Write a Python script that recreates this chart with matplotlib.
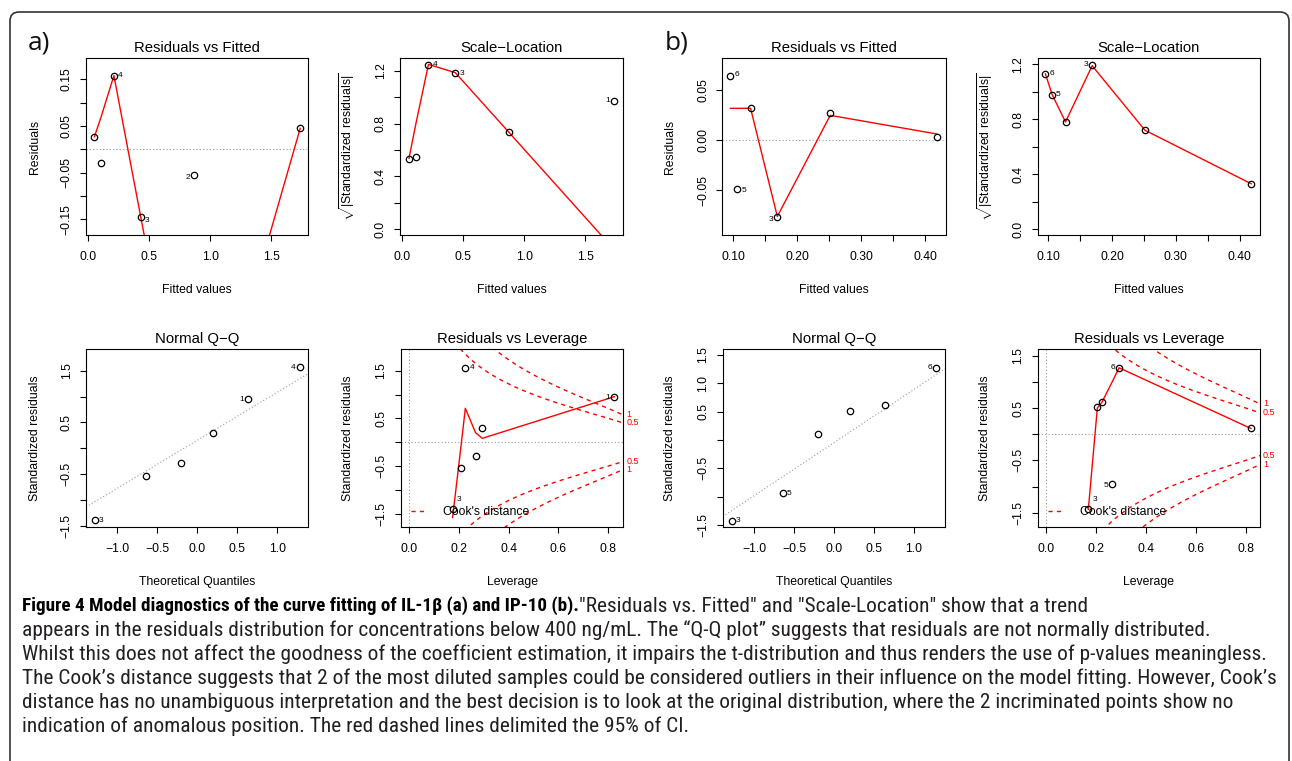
import numpy as np
import matplotlib
matplotlib.use("Agg")
import matplotlib.pyplot as plt
from matplotlib import font_manager
from matplotlib.patches import FancyBboxPatch
from matplotlib.lines import Line2D

W, H = 1292, 761

# ---------------- data : IL-1beta (a) ----------------
a_ids = ['1', '2', '3', '4', '5', '6']
a_fitted = [1.736, 0.870, 0.434, 0.214, 0.110, 0.055]
a_residuals = [0.045, -0.055, -0.146, 0.158, -0.029, 0.027]
a_std_residuals = [0.944, -0.533, -1.395, 1.565, -0.292, 0.290]
a_sqrt_std_residuals = [0.972, 0.737, 1.182, 1.248, 0.544, 0.529]
a_leverage = [0.824, 0.210, 0.176, 0.227, 0.268, 0.295]
# smoother values (ordered by increasing x)
a_smooth_resid = [0.027, 0.070, 0.158, -0.146, -0.745, 0.045]
a_smooth_scale = [0.537, 0.794, 1.250, 1.187, 0.737, -0.158]
a_smooth_lev = [-1.58, -0.066, 0.711, 0.200, 0.081, 0.955]

# ---------------- data : IP-10 (b) ----------------
b_ids = ['1', '2', '3', '4', '5', '6']
b_fitted = [0.418, 0.2515, 0.1688, 0.127, 0.106, 0.0955]
b_residuals = [0.0027, 0.0272, -0.0769, 0.0315, -0.0484, 0.0636]
b_std_residuals = [0.113, 0.518, -1.427, 0.610, -0.944, 1.273]
b_sqrt_std_residuals = [0.330, 0.722, 1.198, 0.780, 0.977, 1.132]
b_leverage = [0.821, 0.2065, 0.1705, 0.225, 0.2665, 0.2935]
b_smooth_resid = [0.0315, 0.0315, 0.0315, -0.076, 0.0245, 0.006]
b_smooth_scale = [1.13, 0.98, 0.78, 1.19, 0.72, 0.33]
b_smooth_lev = [-1.437, 0.50, 0.613, 1.006, 1.27, 0.109]

qq_theoretical = [-1.28, -0.64, -0.20, 0.20, 0.64, 1.28]
cook_levels = [0.5, 1.0]
cook_labels = ['0.5', '1']
n_params = 2

# labelled observations per panel
a_rvf_lab = ['4', '3', '2']
a_sl_lab = ['4', '3', '1']
a_qq_lab = ['3', '1', '4']
a_rvl_lab = ['4', '1', '3']
b_rvf_lab = ['6', '5', '3']
b_sl_lab = ['6', '5', '3']
b_qq_lab = ['3', '5', '6']
b_rvl_lab = ['6', '5', '3']

# tick values and labels
fit_a_ticks = [0.0, 0.5, 1.0, 1.5]
fit_a_labels = ['0.0', '0.5', '1.0', '1.5']
fit_b_ticks = [0.10, 0.15, 0.20, 0.25, 0.30, 0.35, 0.40]
fit_b_labels = ['0.10', '', '0.20', '', '0.30', '', '0.40']
res_a_ticks = [-0.15, -0.10, -0.05, 0.0, 0.05, 0.10, 0.15]
res_a_labels = ['\u22120.15', '', '\u22120.05', '', '0.05', '', '0.15']
res_b_ticks = [-0.05, 0.0, 0.05]
res_b_labels = ['\u22120.05', '0.00', '0.05']
sl_ticks = [0.0, 0.2, 0.4, 0.6, 0.8, 1.0, 1.2]
sl_labels = ['0.0', '', '0.4', '', '0.8', '', '1.2']
qx_ticks = [-1.0, -0.5, 0.0, 0.5, 1.0]
qx_labels = ['\u22121.0', '\u22120.5', '0.0', '0.5', '1.0']
sr_ticks = [-1.5, -1.0, -0.5, 0.0, 0.5, 1.0, 1.5]
sr_labels = ['\u22121.5', '', '\u22120.5', '', '0.5', '', '1.5']
sr_b_qq_labels = ['\u22121.5', '', '\u22120.5', '', '0.5', '1.0', '1.5']
lev_ticks = [0.0, 0.2, 0.4, 0.6, 0.8]
lev_labels = ['0.0', '0.2', '0.4', '0.6', '0.8']

# ---------------- style ----------------
def has_font(name):
    try:
        font_manager.findfont(font_manager.FontProperties(family=name), fallback_to_default=False)
        return True
    except Exception:
        return False


def weight_num(w):
    if isinstance(w, (int, float)):
        return int(w)
    return font_manager.weight_dict.get(str(w).lower(), 400)


def find_narrow():
    """Look for a condensed / narrow sans font (regular and bold files)."""
    prefs = ['Liberation Sans Narrow', 'Open Sans Condensed', 'Roboto Condensed',
             'Noto Sans', 'Open Sans', 'DejaVu Sans']
    entries = font_manager.fontManager.ttflist
    for fam in prefs:
        group = []
        for f in entries:
            st = str(f.stretch).lower()
            narrow = ('narrow' in f.name.lower() or 'condensed' in f.name.lower()
                      or st in ('condensed', 'semi-condensed', 'extra-condensed')
                      or 'condensed' in f.fname.lower() or 'narrow' in f.fname.lower())
            if f.name == fam and narrow and f.style == 'normal' \
                    and 'semi' not in f.fname.lower().replace('semibold', ''):
                group.append(f)
        if group:
            reg = [f for f in group if weight_num(f.weight) <= 450]
            bold = [f for f in group if weight_num(f.weight) >= 600]
            if reg and bold:
                reg.sort(key=lambda f: abs(weight_num(f.weight) - 400))
                bold.sort(key=lambda f: abs(weight_num(f.weight) - 700))
                return reg[0].fname, bold[0].fname
    return None


plt.rcParams['font.family'] = ['Liberation Sans', 'DejaVu Sans']
plt.rcParams['mathtext.fontset'] = 'custom'
plt.rcParams['mathtext.rm'] = 'Liberation Sans'
plt.rcParams['mathtext.it'] = 'Liberation Sans:italic'
plt.rcParams['axes.unicode_minus'] = True

TICK_FS = 8.7
LAB_FS = 8.8
TITLE_FS = 10.7
ID_FS = 6.0
RED = '#ff0000'
GREY = '#9a9a9a'

fig = plt.figure(figsize=(W / 100, H / 100), dpi=100)
fig.patch.set_facecolor('white')

bg = fig.add_axes([0, 0, 1, 1], zorder=-5)
bg.set_xlim(0, W)
bg.set_ylim(H, 0)
bg.axis('off')
bg.add_patch(FancyBboxPatch((10, 12), 1279, 820, boxstyle='round,pad=0,rounding_size=9',
                            fill=False, ec='#333333', lw=1.2))


def px_axes(x0, x1, y0, y1):
    return fig.add_axes([x0 / W, 1 - y1 / H, (x1 - x0) / W, (y1 - y0) / H])


def ftext(x, y, s, **kw):
    return fig.text(x / W, 1 - y / H, s, **kw)


def setup(ax, xlim, ylim, xt, xl, yt, yl):
    ax.set_xlim(xlim)
    ax.set_ylim(ylim)
    ax.set_xticks(xt)
    ax.set_xticklabels(xl)
    ax.set_yticks(yt)
    ax.set_yticklabels(yl)
    ax.tick_params(direction='out', length=4.5, width=0.8, labelsize=TICK_FS, colors='black')
    ax.tick_params(axis='x', pad=7.0)
    ax.tick_params(axis='y', pad=5.0)
    for lab in ax.get_yticklabels():
        lab.set_rotation(90)
        lab.set_verticalalignment('center')
    for s in ax.spines.values():
        s.set_linewidth(0.8)
        s.set_color('black')


def points(ax, x, y):
    ax.plot(x, y, 'o', mfc='none', mec='black', ms=4.6, mew=0.9, zorder=3)


def smooth(ax, x, s):
    ax.plot(np.sort(np.asarray(x)), s, color=RED, lw=1.0, zorder=2)


def id_labels(ax, ids, x, y, which, place):
    for lab in which:
        i = ids.index(lab)
        side, dy = place[lab]
        ax.annotate(lab, xy=(x[i], y[i]), xytext=(4.0 * side, -dy), textcoords='offset pixels',
                    ha='left' if side > 0 else 'right', va='center', fontsize=ID_FS,
                    annotation_clip=False, zorder=4)


def cook(ax, lev, xlim, ylim):
    hh = np.linspace(min(min(lev), max(lev) / 100), xlim[1], 101)
    for lvl, lab in zip(cook_levels, cook_labels):
        cl = np.sqrt(lvl * n_params * (1 - hh) / hh)
        ax.plot(hh, cl, color=RED, ls=(0, (3, 3)), lw=1.0, zorder=1)
        ax.plot(hh, -cl, color=RED, ls=(0, (3, 3)), lw=1.0, zorder=1)
        ye = np.sqrt(lvl * n_params * (1 - xlim[1]) / xlim[1])
        for yy in (ye, -ye):
            ax.annotate(lab, xy=(1, yy), xycoords=('axes fraction', 'data'), xytext=(3, 0),
                        textcoords='offset pixels', ha='left', va='center', fontsize=6.5,
                        color=RED, annotation_clip=False)
    ax.axhline(0, color=GREY, ls=(0, (1, 2)), lw=0.8, zorder=0)
    ax.axvline(0, color=GREY, ls=(0, (1, 2)), lw=0.8, zorder=0)
    ax.legend([Line2D([], [], color=RED, ls=(0, (3, 3)), lw=1.0)], ["Cook's distance"],
              loc='center left', bbox_to_anchor=(0.046, 0.081), frameon=False, borderpad=0,
              borderaxespad=0, handlelength=1.2, handletextpad=1.45, fontsize=LAB_FS)


def qq(ax, std):
    ys = np.sort(np.asarray(std))
    points(ax, qq_theoretical, ys)
    q1, q3 = np.quantile(ys, [0.25, 0.75])
    slope = (q3 - q1) / (2 * 0.6744898)
    inter = (q1 + q3) / 2
    ax.axline((0, inter), slope=slope, color=GREY, ls=(0, (1, 2)), lw=0.8, zorder=0)
    return ys


def titles(cx, row, title, xlabel, ylabel, ylx):
    base = 51.7 + row * 291.7
    ftext(cx, base, title, ha='center', va='baseline', fontsize=TITLE_FS)
    ftext(cx, 293.3 + row * 291.7, xlabel, ha='center', va='baseline', fontsize=LAB_FS)
    ftext(ylx, 146.7 + row * 291.7, ylabel, ha='center', va='center', rotation=90, fontsize=LAB_FS)


SQRT_LAB = r'$\sqrt{|\mathrm{Standardized\ residuals}|}$'

# ---------------- panel a ----------------
ax = px_axes(86, 308.3, 58.3, 235)
xl, yl = (-0.014, 1.802), (-0.1835, 0.195)
setup(ax, xl, yl, fit_a_ticks, fit_a_labels, res_a_ticks, res_a_labels)
ax.axhline(0, color=GREY, ls=(0, (1, 2)), lw=0.8, zorder=0)
points(ax, a_fitted, a_residuals)
smooth(ax, a_fitted, a_smooth_resid)
id_labels(ax, a_ids, a_fitted, a_residuals, a_rvf_lab, {'4': (1, 0), '3': (1, 2.7), '2': (-1, 2)})
titles(197.2, 0, 'Residuals vs Fitted', 'Fitted values', 'Residuals', 35)

ax = px_axes(400, 623.3, 58.3, 235)
setup(ax, (-0.019, 1.81), (-0.046, 1.296), fit_a_ticks, fit_a_labels, sl_ticks, sl_labels)
points(ax, a_fitted, a_sqrt_std_residuals)
smooth(ax, a_fitted, a_smooth_scale)
id_labels(ax, a_ids, a_fitted, a_sqrt_std_residuals, a_sl_lab, {'4': (1, 0), '3': (1, 0), '1': (-1, 0)})
titles(511.7, 0, 'Scale\u2212Location', 'Fitted values', SQRT_LAB, 347)

ax = px_axes(86, 308.3, 349.3, 526.7)
setup(ax, (-1.391, 1.3875), (-1.519, 1.914), qx_ticks, qx_labels, sr_ticks, sr_labels)
qq(ax, a_std_residuals)
order = np.argsort(a_std_residuals)
a_qq_x = [0.0] * 6
for rank, idx in enumerate(order):
    a_qq_x[idx] = qq_theoretical[rank]
id_labels(ax, a_ids, a_qq_x, a_std_residuals, a_qq_lab, {'3': (1, 0), '1': (-1, 0), '4': (-1, 0)})
titles(197.2, 1, 'Normal Q\u2212Q', 'Theoretical Quantiles', 'Standardized residuals', 35)

ax = px_axes(400.7, 623.3, 349.3, 526.7)
xl, yl = (-0.032, 0.860), (-1.773, 1.949)
setup(ax, xl, yl, lev_ticks, lev_labels, sr_ticks, sr_labels)
cook(ax, a_leverage, xl, yl)
points(ax, a_leverage, a_std_residuals)
smooth(ax, a_leverage, a_smooth_lev)
id_labels(ax, a_ids, a_leverage, a_std_residuals, a_rvl_lab, {'4': (1, 0), '1': (-1, 0), '3': (1, -9)})
titles(512, 1, 'Residuals vs Leverage', 'Leverage', 'Standardized residuals', 348.3)

# ---------------- panel b ----------------
ax = px_axes(722.3, 945.7, 58.3, 235)
setup(ax, (0.0828, 0.432), (-0.0944, 0.0812), fit_b_ticks, fit_b_labels, res_b_ticks, res_b_labels)
ax.axhline(0, color=GREY, ls=(0, (1, 2)), lw=0.8, zorder=0)
points(ax, b_fitted, b_residuals)
smooth(ax, b_fitted, b_smooth_resid)
id_labels(ax, b_ids, b_fitted, b_residuals, b_rvf_lab, {'6': (1, -1.5), '5': (1, 2), '3': (-1, 2)})
titles(834, 0, 'Residuals vs Fitted', 'Fitted values', 'Residuals', 670)

ax = px_axes(1037.7, 1260, 58.3, 235)
setup(ax, (0.0834, 0.432), (-0.044, 1.244), fit_b_ticks, fit_b_labels, sl_ticks, sl_labels)
points(ax, b_fitted, b_sqrt_std_residuals)
smooth(ax, b_fitted, b_smooth_scale)
id_labels(ax, b_ids, b_fitted, b_sqrt_std_residuals, b_sl_lab, {'6': (1, 0), '5': (1, 0), '3': (-1, 0)})
titles(1148.8, 0, 'Scale\u2212Location', 'Fitted values', SQRT_LAB, 985)

ax = px_axes(722.7, 945, 349.3, 526.7)
setup(ax, (-1.391, 1.3875), (-1.53, 1.6), qx_ticks, qx_labels, sr_ticks, sr_b_qq_labels)
qq(ax, b_std_residuals)
order = np.argsort(b_std_residuals)
b_qq_x = [0.0] * 6
for rank, idx in enumerate(order):
    b_qq_x[idx] = qq_theoretical[rank]
id_labels(ax, b_ids, b_qq_x, b_std_residuals, b_qq_lab, {'3': (1, 0), '5': (1, 0), '6': (-1, 0)})
titles(833.8, 1, 'Normal Q\u2212Q', 'Theoretical Quantiles', 'Standardized residuals', 670)

ax = px_axes(1037.7, 1260, 349.3, 526.7)
xl, yl = (-0.032, 0.857), (-1.768, 1.623)
setup(ax, xl, yl, lev_ticks, lev_labels, sr_ticks, sr_labels)
cook(ax, b_leverage, xl, yl)
points(ax, b_leverage, b_std_residuals)
smooth(ax, b_leverage, b_smooth_lev)
id_labels(ax, b_ids, b_leverage, b_std_residuals, b_rvl_lab, {'6': (-1, 0), '5': (-1, 2), '3': (1, -9)})
titles(1148.8, 1, 'Residuals vs Leverage', 'Leverage', 'Standardized residuals', 985)

# ---------------- panel letters ----------------
letter_font = 'Open Sans' if has_font('Open Sans') else 'DejaVu Sans'
ftext(28, 50, 'a)', fontsize=19, family=letter_font, va='baseline', color='#111111')
ftext(665, 50, 'b)', fontsize=19, family=letter_font, va='baseline', color='#111111')

# ---------------- caption ----------------
cap_bold = 'Figure 4 Model diagnostics of the curve fitting of IL-1\u03b2 (a) and IP-10 (b).'
cap_lines = [
    '"Residuals vs. Fitted" and "Scale-Location" show that a trend',
    'appears in the residuals distribution for concentrations below 400 ng/mL. The \u201cQ-Q plot\u201d suggests that residuals are not normally distributed.',
    'Whilst this does not affect the goodness of the coefficient estimation, it impairs the t-distribution and thus renders the use of p-values meaningless.',
    'The Cook\u2019s distance suggests that 2 of the most diluted samples could be considered outliers in their influence on the model fitting. However, Cook\u2019s',
    'distance has no unambiguous interpretation and the best decision is to look at the original distribution, where the 2 incriminated points show no',
    'indication of anomalous position. The red dashed lines delimited the 95% of CI.',
]

narrow = find_narrow()
if narrow is not None:
    prop_reg = font_manager.FontProperties(fname=narrow[0])
    prop_bold = font_manager.FontProperties(fname=narrow[1])
else:
    fam = 'Open Sans' if has_font('Open Sans') else 'DejaVu Sans'
    prop_reg = font_manager.FontProperties(family=fam)
    prop_bold = font_manager.FontProperties(family=fam, weight='bold')

renderer = fig.canvas.get_renderer()
# size the caption so that its widest line fits inside the frame
p = prop_reg.copy()
p.set_size(10)
wmax = 0.0
for txt in cap_lines[1:]:
    probe = ftext(22, 654, txt, fontproperties=p, va='center')
    wmax = max(wmax, probe.get_window_extent(renderer).width)
    probe.remove()
cap_fs = 10 * 1244.0 / wmax

pb = prop_bold.copy()
pb.set_size(cap_fs)
tb = ftext(22, 606, cap_bold, fontproperties=pb, va='center', color='black')
bw = tb.get_window_extent(renderer).width
bold_fs = cap_fs * min(1.0, max(0.9, 512.0 / bw))
pb.set_size(bold_fs)
tb.set_fontproperties(pb)
bw = tb.get_window_extent(renderer).width

CAP_COL = '#231f20'
pr = prop_reg.copy()
pr.set_size(cap_fs)
line_y = [606, 630, 654, 678, 702, 726]
ftext(22 + bw, line_y[0], cap_lines[0], fontproperties=pr, va='center', color=CAP_COL)
for yy, txt in zip(line_y[1:], cap_lines[1:]):
    ftext(22, yy, txt, fontproperties=pr, va='center', color=CAP_COL)

fig.savefig('out.png', dpi=100, facecolor='white')
